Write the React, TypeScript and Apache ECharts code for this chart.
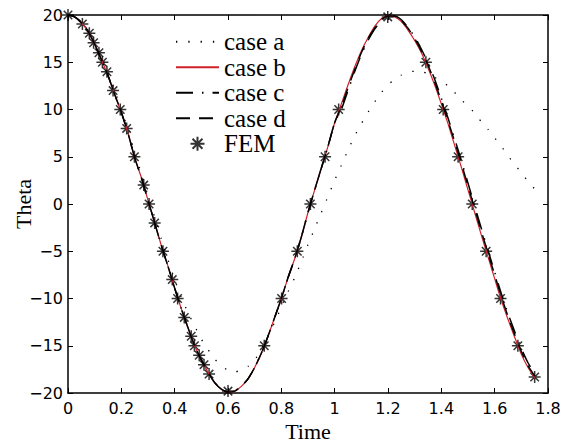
import React, { useEffect, useRef } from "react";
import * as echarts from "echarts";

const timeGrid = [
  0, 0.025, 0.05, 0.075, 0.1, 0.125, 0.15, 0.175, 0.2, 0.225, 0.25, 0.275, 0.3, 0.325, 0.35, 0.375,
  0.4, 0.425, 0.45, 0.475, 0.5, 0.525, 0.55, 0.575, 0.6, 0.625, 0.65, 0.675, 0.7, 0.725, 0.75, 0.775,
  0.8, 0.825, 0.85, 0.875, 0.9, 0.925, 0.95, 0.975, 1.0, 1.025, 1.05, 1.075, 1.1, 1.125, 1.15, 1.175,
  1.2, 1.225, 1.25, 1.275, 1.3, 1.325, 1.35, 1.375, 1.4, 1.425, 1.45, 1.475, 1.5, 1.525, 1.55, 1.575,
  1.6, 1.625, 1.65, 1.675, 1.7, 1.725, 1.75,
];

const caseA = [
  20, 19.8, 19.25, 18.4, 17.1, 15.6, 13.9, 12.0, 10.0, 7.9, 5.5, 3.2, 0.9, -1.4, -3.7, -5.9,
  -8.0, -9.9, -11.5, -12.9, -14.3, -15.4, -16.4, -17.1, -17.6, -17.75, -17.6, -17.2, -16.5, -15.4, -14.0, -12.5,
  -10.9, -9.3, -7.8, -6.1, -4.3, -2.6, -0.9, 0.8, 2.5, 4.1, 5.7, 7.2, 8.5, 9.7, 10.8, 11.8,
  12.6, 13.2, 13.65, 13.95, 14.05, 14.0, 13.8, 13.4, 13.0, 12.5, 11.8, 11.0, 10.4, 9.6, 8.7, 7.9,
  7.0, 6.1, 5.1, 4.2, 3.3, 2.4, 1.6,
];

const caseB = [
  20.0, 19.8, 19.2, 18.3, 16.9, 15.3, 13.6, 11.6, 9.7, 7.5, 4.9, 2.8, 0.4, -2.0, -4.4, -6.6,
  -8.9, -11.1, -13.1, -15.0, -16.5, -17.8, -18.9, -19.6, -19.9, -19.8, -19.3, -18.5, -17.3, -15.8, -14.0, -12.0,
  -10.0, -7.8, -5.8, -3.5, -0.9, 1.5, 3.8, 6.1, 8.6, 10.6, 12.6, 14.5, 16.2, 17.6, 18.8, 19.6,
  19.9, 19.8, 19.3, 18.4, 17.3, 16.0, 14.4, 12.6, 10.6, 8.5, 6.2, 3.9, 1.5, -0.9, -3.3, -5.6,
  -7.9, -10.2, -12.2, -14.1, -15.9, -17.3, -18.4,
];

const caseC = [
  20.0, 19.8, 19.2, 18.3, 16.9, 15.3, 13.6, 11.6, 9.7, 7.5, 4.9, 2.8, 0.4, -2.0, -4.4, -6.6,
  -8.9, -11.1, -13.1, -15.0, -16.5, -17.8, -18.9, -19.6, -19.9, -19.8, -19.3, -18.5, -17.3, -15.8, -14.0, -12.0,
  -10.0, -7.8, -5.8, -3.5, -0.9, 1.5, 3.8, 6.1, 8.6, 10.0, 12.0, 14.0, 15.8, 17.3, 18.5, 19.4,
  19.9, 19.9, 19.5, 18.7, 17.7, 16.4, 14.9, 13.2, 11.2, 9.1, 6.9, 4.6, 2.2, -0.2, -2.6, -4.9,
  -7.2, -9.5, -11.6, -13.5, -15.3, -16.8, -18.0,
];

const caseD = [
  20.0, 19.8, 19.2, 18.3, 16.9, 15.3, 13.6, 11.6, 9.7, 7.5, 4.9, 2.8, 0.4, -2.0, -4.4, -6.6,
  -8.9, -11.1, -13.1, -15.0, -16.5, -17.8, -18.9, -19.6, -19.9, -19.8, -19.3, -18.5, -17.3, -15.8, -14.0, -12.0,
  -10.0, -7.8, -5.8, -3.5, -0.9, 1.5, 3.8, 6.1, 8.6, 10.3, 12.3, 14.2, 16.0, 17.5, 18.6, 19.5,
  19.9, 19.9, 19.4, 18.6, 17.5, 16.2, 14.7, 12.9, 10.9, 8.8, 6.6, 4.3, 1.9, -0.5, -2.9, -5.2,
  -7.5, -9.8, -11.9, -13.8, -15.6, -17.1, -18.2,
];

const femTime = [
  0, 0.054, 0.08, 0.096, 0.116, 0.129, 0.146, 0.169, 0.196, 0.22, 0.249, 0.284, 0.304, 0.325, 0.356,
  0.391, 0.411, 0.436, 0.462, 0.474, 0.492, 0.51, 0.529, 0.6, 0.736, 0.801, 0.86, 0.909, 0.964, 1.015,
  1.199, 1.342, 1.407, 1.463, 1.516, 1.568, 1.622, 1.687, 1.75,
];
const femTheta = [
  20, 19.05, 18.06, 17.07, 16.0, 15.0, 14.0, 12.0, 10.0, 8.0, 5.0, 2.0, 0.0, -2.0, -5.0,
  -8.0, -10.0, -12.0, -14.0, -15.0, -16.0, -17.0, -18.0, -19.8, -15.0, -10.0, -5.0, 0.0, 5.0, 10.0,
  19.8, 15.0, 10.0, 5.0, 0.0, -5.0, -10.0, -15.0, -18.3,
];

const legendNames = ["case a", "case b", "case c", "case d", "FEM"];

const pair = (t: number[], v: number[]) => t.map((x, i) => [x, v[i]]);

const STAR = "path://M0,-10L0,10M-10,0L10,0M-7.07,-7.07L7.07,7.07M-7.07,7.07L7.07,-7.07";

export default function App() {
  const ref = useRef<HTMLDivElement>(null);
  useEffect(() => {
    if (!ref.current) return;
    const chart = echarts.init(ref.current, undefined, { renderer: "svg" });
    const axisLine = { show: true, onZero: false, lineStyle: { color: "#000", width: 1.5 } };
    const tick = { show: true, inside: true, length: 5, lineStyle: { color: "#000", width: 1 } };
    const labelFont = { color: "#000", fontFamily: "DejaVu Sans", fontSize: 16 };
    const minus = (v: number) => String(v).replace("-", "\u2212");
    chart.setOption({
      animation: false,
      backgroundColor: "#fff",
      grid: { left: 68, right: 16, top: 15, bottom: 52, containLabel: false, outerBoundsMode: "none" },
      legend: {
        orient: "vertical",
        left: 170,
        top: 24,
        itemWidth: 43,
        itemHeight: 14,
        itemGap: 0,
        textStyle: { fontFamily: "Liberation Serif", fontSize: 25, lineHeight: 25.5, color: "#000" },
        data: legendNames.map((n) =>
          n === "FEM" ? { name: n } : { name: n, itemStyle: { opacity: 0 } }
        ),
        selectedMode: false,
      },
      xAxis: [
        {
          type: "value", min: 0, max: 1.8, interval: 0.2,
          name: "Time", nameLocation: "middle", nameGap: 27, nameMoveOverlap: false,
          nameTextStyle: { fontFamily: "Liberation Serif", fontSize: 22, color: "#000" },
          axisLine, axisTick: tick, splitLine: { show: false },
          axisLabel: { ...labelFont, margin: 7, formatter: minus },
        },
        {
          type: "value", position: "top", min: 0, max: 1.8, interval: 0.2,
          axisLine, axisTick: tick, splitLine: { show: false }, axisLabel: { show: false },
        },
      ],
      yAxis: [
        {
          type: "value", min: -20, max: 20, interval: 5,
          name: "Theta", nameLocation: "middle", nameGap: 34, nameRotate: 90, nameMoveOverlap: false,
          nameTextStyle: { fontFamily: "Liberation Serif", fontSize: 22, color: "#000" },
          axisLine, axisTick: tick, splitLine: { show: false },
          axisLabel: { ...labelFont, margin: 5, formatter: minus },
        },
        {
          type: "value", position: "right", min: -20, max: 20, interval: 5,
          axisLine, axisTick: tick, splitLine: { show: false }, axisLabel: { show: false },
        },
      ],
      series: [
        {
          name: "case a", type: "line", data: pair(timeGrid, caseA), symbol: "none", smooth: 0.2,
          lineStyle: { color: "#000", width: 1.3, type: [1.3, 11] }, itemStyle: { color: "#000" },
        },
        {
          name: "case b", type: "line", data: pair(timeGrid, caseB), symbol: "none", smooth: 0.2,
          lineStyle: { color: "#d0202a", width: 1.2, type: "solid" }, itemStyle: { color: "#d0202a" },
        },
        {
          name: "case c", type: "line", data: pair(timeGrid, caseC), symbol: "none", smooth: 0.2,
          lineStyle: { color: "#000", width: 1.5, type: [17, 9, 1.5, 9] }, itemStyle: { color: "#000" },
        },
        {
          name: "case d", type: "line", data: pair(timeGrid, caseD), symbol: "none", smooth: 0.2,
          lineStyle: { color: "#000", width: 1.5, type: [14, 9] }, itemStyle: { color: "#000" },
        },
        {
          name: "FEM", type: "scatter", data: pair(femTime, femTheta),
          symbol: STAR, symbolSize: 12, symbolKeepAspect: true,
          itemStyle: { color: "#000", borderColor: "#000", borderWidth: 1.5 },
        },
      ],
    });
    return () => chart.dispose();
  }, []);
  return (
    <div
      ref={ref}
      style={{ position: "fixed", left: 0, top: 0, width: 564, height: 445, background: "#fff" }}
    />
  );
}
